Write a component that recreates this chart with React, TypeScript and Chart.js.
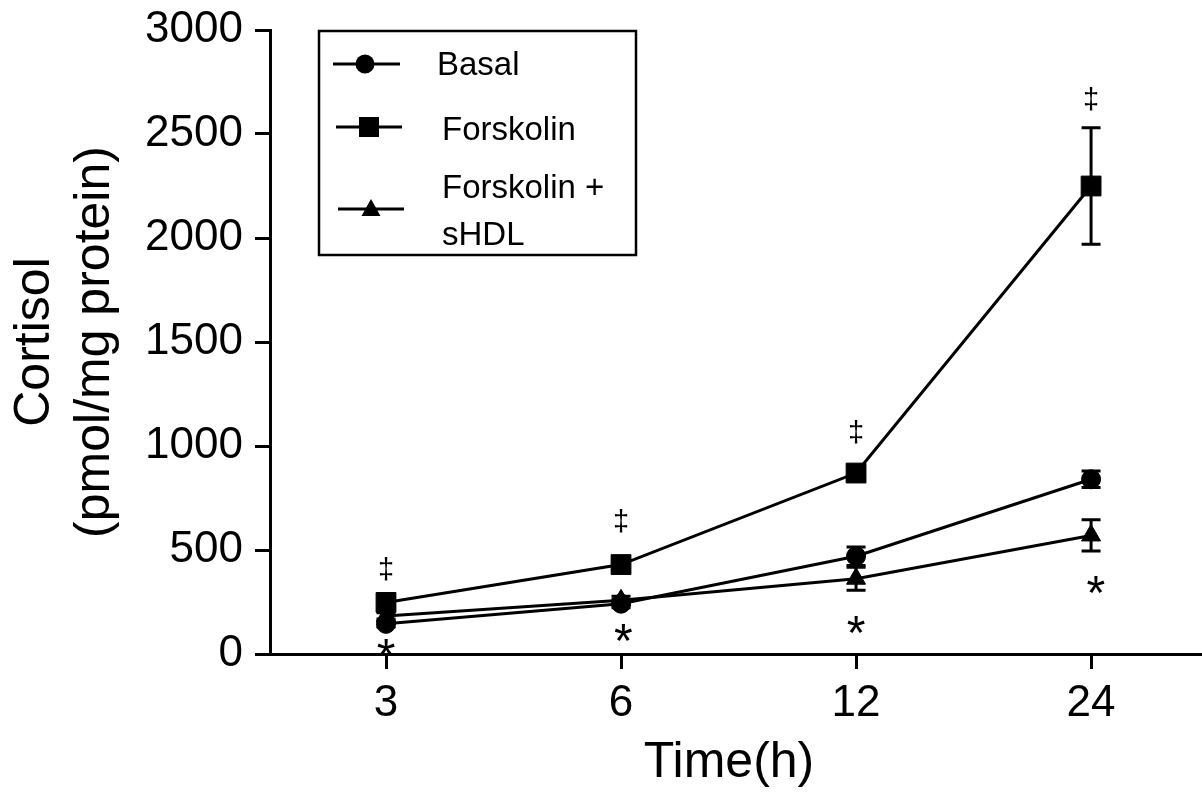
import React, { useEffect, useRef } from 'react';
import { Chart, registerables } from 'chart.js';

Chart.register(...registerables);

const timeLabels = ['3', '6', '12', '24'];
const timeIndex = [0, 1, 2, 3];
const basal = [145, 242, 470, 840];
const basalErr = [15, 20, 45, 40];
const forskolin = [248, 430, 870, 2250];
const forskolinErr = [25, 25, 35, 280];
const forskolinShdl = [183, 258, 362, 570];
const forskolinShdlErr = [15, 20, 55, 75];
const daggerX = [0, 1, 2, 3];
const daggerValues = [404, 635, 1062, 2663];
const starX = [0, 1.01, 2, 3.02];
const starValues = [43, 115, 154, 346];
const yTicks = [0, 500, 1000, 1500, 2000, 2500, 3000];

const FONT = "'Liberation Sans', Arial, sans-serif";

const errors = [basalErr, forskolinErr, forskolinShdlErr];

const drawMarker = (ctx: CanvasRenderingContext2D, style: string, x: number, y: number) => {
  ctx.beginPath();
  if (style === 'circle') {
    ctx.arc(x, y, 9.5, 0, Math.PI * 2);
  } else if (style === 'rect') {
    ctx.rect(x - 10, y - 10, 20, 20);
  } else {
    ctx.moveTo(x, y - 10);
    ctx.lineTo(x + 9.5, y + 7);
    ctx.lineTo(x - 9.5, y + 7);
    ctx.closePath();
  }
  ctx.fill();
};

const extrasPlugin = {
  id: 'extras',
  afterDatasetsDraw(chart: any) {
    const { ctx, scales } = chart;
    const xs = scales.x;
    const ys = scales.y;
    ctx.save();
    ctx.strokeStyle = '#000';
    ctx.lineWidth = 3;
    chart.data.datasets.forEach((ds: any, i: number) => {
      ds.data.forEach((pt: any, j: number) => {
        const e = errors[i][j];
        const x = xs.getPixelForValue(pt.x);
        const yt = ys.getPixelForValue(pt.y + e);
        const yb = ys.getPixelForValue(pt.y - e);
        ctx.beginPath();
        ctx.moveTo(x, yt);
        ctx.lineTo(x, yb);
        ctx.moveTo(x - 9.5, yt);
        ctx.lineTo(x + 9.5, yt);
        ctx.moveTo(x - 9.5, yb);
        ctx.lineTo(x + 9.5, yb);
        ctx.stroke();
      });
    });
    ctx.restore();
  },
  afterDraw(chart: any) {
    const { ctx, scales } = chart;
    const xs = scales.x;
    const ys = scales.y;
    ctx.save();
    ctx.fillStyle = '#000';
    ctx.textAlign = 'center';
    ctx.textBaseline = 'alphabetic';
    ctx.font = `29px ${FONT}`;
    daggerValues.forEach((v, i) => {
      ctx.fillText('\u2021', xs.getPixelForValue(daggerX[i]), ys.getPixelForValue(v) + 29 * 0.3);
    });
    ctx.font = `48px ${FONT}`;
    starValues.forEach((v, i) => {
      ctx.fillText('*', xs.getPixelForValue(starX[i]), ys.getPixelForValue(v) + 48 * 0.57);
    });

    // legend
    ctx.strokeStyle = '#000';
    ctx.lineWidth = 2.5;
    ctx.strokeRect(319, 31, 317, 224);
    ctx.lineWidth = 3;
    const items = [
      { style: 'circle', y: 64, x0: 333, x1: 400, mx: 365 },
      { style: 'rect', y: 127, x0: 336, x1: 402, mx: 369 },
      { style: 'triangle', y: 209, x0: 338, x1: 404, mx: 371 },
    ];
    items.forEach((it) => {
      ctx.beginPath();
      ctx.moveTo(it.x0, it.y);
      ctx.lineTo(it.x1, it.y);
      ctx.stroke();
      drawMarker(ctx, it.style, it.mx, it.y);
    });
    ctx.font = `33px ${FONT}`;
    ctx.textAlign = 'left';
    ctx.fillText(chart.data.datasets[0].label, 437, 75);
    ctx.fillText(chart.data.datasets[1].label, 442, 140);
    ctx.fillText('Forskolin +', 442, 198);
    ctx.fillText('sHDL', 442, 245);
    ctx.restore();
  },
};

export default function App() {
  const ref = useRef<HTMLCanvasElement | null>(null);
  useEffect(() => {
    if (!ref.current) return;
    const mk = (vals: number[]) => vals.map((v, i) => ({ x: timeIndex[i], y: v }));
    const common = {
      borderColor: '#000',
      backgroundColor: '#000',
      borderWidth: 3,
      pointBackgroundColor: '#000',
      pointBorderColor: '#000',
      pointBorderWidth: 1,
      tension: 0,
      fill: false,
    };
    const chart = new Chart(ref.current, {
      type: 'line',
      data: {
        datasets: [
          { ...common, label: 'Basal', data: mk(basal), pointStyle: 'circle', pointRadius: 9.5 },
          { ...common, label: 'Forskolin', data: mk(forskolin), pointStyle: 'rect', pointRadius: 14 },
          { ...common, label: 'Forskolin + sHDL', data: mk(forskolinShdl), pointStyle: 'triangle', pointRadius: 11 },
        ],
      },
      options: {
        animation: false,
        responsive: false,
        maintainAspectRatio: false,
        layout: { autoPadding: false, padding: { top: 30, left: 0, right: 0, bottom: 0 } },
        plugins: { legend: { display: false }, tooltip: { enabled: false } },
        scales: {
          x: {
            type: 'linear',
            min: -0.4936,
            max: 3.472,
            afterBuildTicks: (s: any) => {
              s.ticks = timeIndex.map((v) => ({ value: v }));
            },
            afterFit: (s: any) => {
              s.height = 141;
              s.paddingLeft = 0;
              s.paddingRight = 0;
            },
            ticks: {
              color: '#000',
              font: { family: FONT, size: 44 },
              padding: 8,
              maxRotation: 0,
              autoSkip: false,
              callback: (v: any) => timeLabels[timeIndex.indexOf(Number(v))] ?? '',
            },
            grid: { drawOnChartArea: false, drawTicks: true, tickLength: 15, tickWidth: 3, tickColor: '#000' },
            border: { display: true, color: '#000', width: 3 },
            title: { display: true, text: 'Time(h) ', color: '#000', font: { family: FONT, size: 50 }, padding: { top: 0, bottom: 2 } },
          },
          y: {
            type: 'linear',
            min: 0,
            max: 3000,
            afterBuildTicks: (s: any) => {
              s.ticks = yTicks.map((v) => ({ value: v }));
            },
            afterFit: (s: any) => {
              s.width = 270;
              s.paddingTop = 0;
              s.paddingBottom = 0;
            },
            ticks: {
              color: '#000',
              font: { family: FONT, size: 44 },
              padding: 12,
              callback: (v: any) => String(v),
            },
            grid: { drawOnChartArea: false, drawTicks: true, tickLength: 15, tickWidth: 3, tickColor: '#000' },
            border: { display: true, color: '#000', width: 3 },
            title: {
              display: true,
              text: ['Cortisol', '(pmol/mg protein)'],
              color: '#000',
              font: { family: FONT, size: 50 },
              padding: { top: 5, bottom: 0 },
            },
          },
        },
      },
      plugins: [extrasPlugin],
    } as any);
    return () => chart.destroy();
  }, []);
  return (
    <div style={{ position: 'absolute', left: 0, top: 0, width: 1202, height: 795, background: '#fff' }}>
      <canvas ref={ref} width={1202} height={795} style={{ display: 'block' }} />
    </div>
  );
}
